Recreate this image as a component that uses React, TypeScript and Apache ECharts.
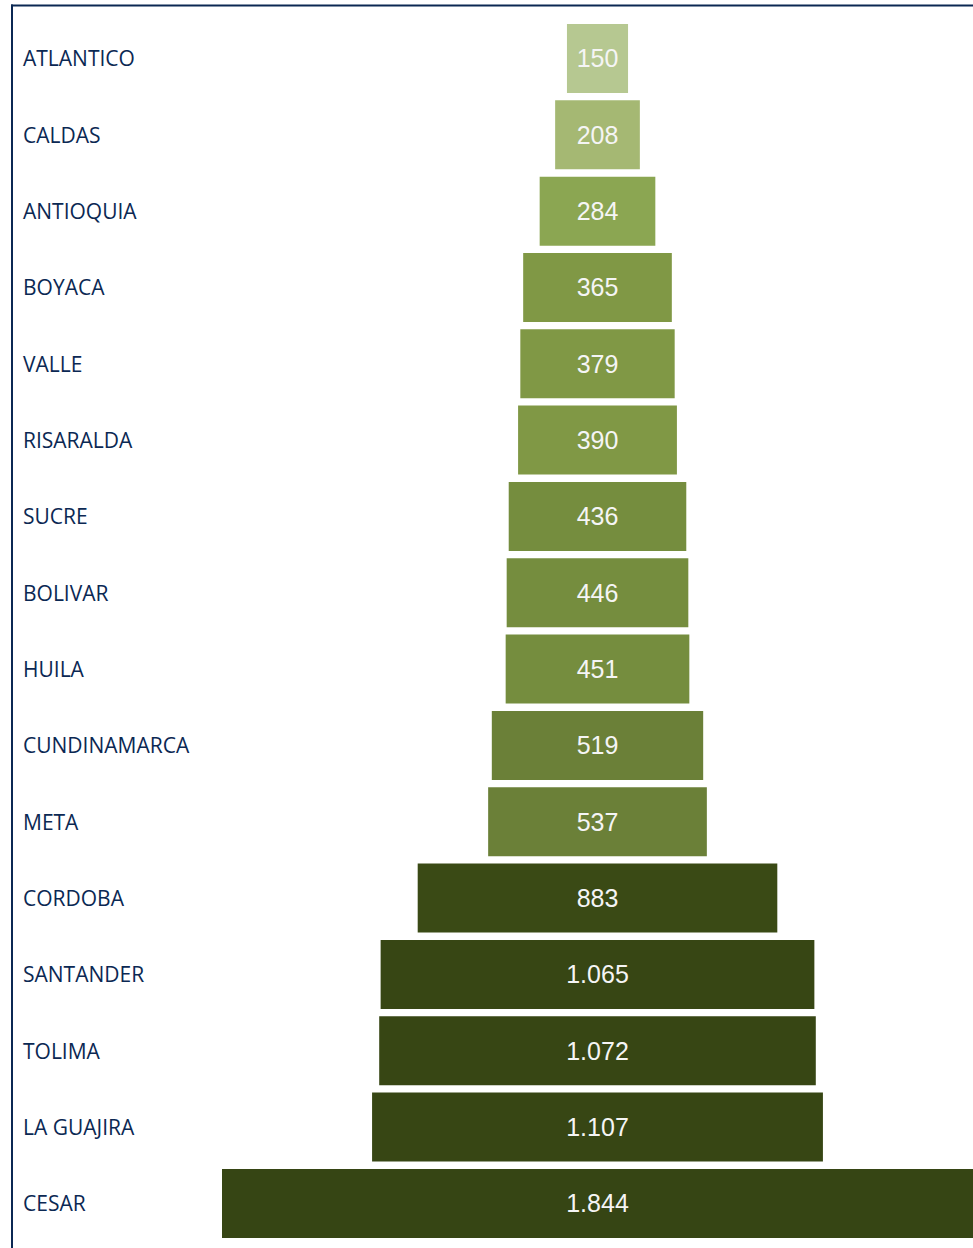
import React, { useEffect, useRef } from "react";
import * as echarts from "echarts";

const categories = [
  "ATLANTICO", "CALDAS", "ANTIOQUIA", "BOYACA", "VALLE", "RISARALDA", "SUCRE", "BOLIVAR",
  "HUILA", "CUNDINAMARCA", "META", "CORDOBA", "SANTANDER", "TOLIMA", "LA GUAJIRA", "CESAR",
];
const values = [150, 208, 284, 365, 379, 390, 436, 446, 451, 519, 537, 883, 1065, 1072, 1107, 1844];
const barColors = [
  "#B6C891", "#A5B873", "#8BA652", "#809845", "#809845", "#809845", "#758D3E", "#758D3E",
  "#758D3E", "#6B8038", "#6B8038", "#3A4A15", "#374614", "#374614", "#374614", "#364514",
];

const maxValue = Math.max(...values);

function fmt(v: number): string {
  return v.toString().replace(/\B(?=(\d{3})+(?!\d))/g, ".");
}

export default function App() {
  const ref = useRef<HTMLDivElement>(null);
  useEffect(() => {
    document.body.style.margin = "0";
    const chart = echarts.init(ref.current!, undefined, { renderer: "svg" });
    const offsets = values.map((v) => (maxValue - v) / 2);
    chart.setOption({
      animation: false,
      backgroundColor: "#ffffff",
      grid: { left: 222, right: 0, top: 20.3, bottom: 6.4, containLabel: false },
      xAxis: {
        type: "value",
        min: 0,
        max: maxValue,
        show: false,
      },
      yAxis: {
        type: "category",
        data: categories,
        inverse: true,
        axisLine: { show: false },
        axisTick: { show: false },
        splitLine: { show: false },
        axisLabel: {
          align: "left",
          margin: 199,
          color: "#0B2853",
          fontFamily: "Open Sans",
          fontSize: 21,
        },
      },
      graphic: [
        {
          type: "line",
          shape: { x1: 11, y1: 5.5, x2: 973, y2: 5.5 },
          style: { stroke: "#0B2853", lineWidth: 2 },
          z: 100,
        },
        {
          type: "line",
          shape: { x1: 12, y1: 4.5, x2: 12, y2: 1248 },
          style: { stroke: "#0B2853", lineWidth: 2 },
          z: 100,
        },
      ],
      series: [
        {
          type: "bar",
          stack: "total",
          data: offsets,
          itemStyle: { color: "transparent" },
          silent: true,
          barCategoryGap: "9.6%",
        },
        {
          type: "bar",
          stack: "total",
          barCategoryGap: "9.6%",
          data: values.map((v, i) => ({ value: v, itemStyle: { color: barColors[i] } })),
          label: {
            show: true,
            position: "inside",
            color: "#F5F5F5",
            fontFamily: "Liberation Sans, Arial, sans-serif",
            fontSize: 25,
            formatter: (p: any) => fmt(p.value),
          },
        },
      ],
    });
    return () => chart.dispose();
  }, []);
  return <div ref={ref} style={{ width: 973, height: 1248 }} />;
}
